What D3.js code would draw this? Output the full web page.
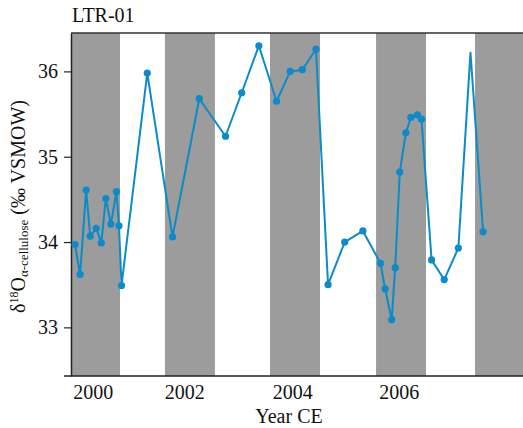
<!DOCTYPE html>
<html>
<head>
<meta charset="utf-8">
<script src="https://cdn.jsdelivr.net/npm/d3@7"></script>
<style>
  body { margin: 0; background: #fff; }
  text { font-family: "Liberation Serif", "DejaVu Serif", serif; fill: #111; }
</style>
</head>
<body>
<div id="chart"></div>
<script>
// sample dates (decimal year) and d18O values
var sampleYears = [2000.08, 2000.18, 2000.30, 2000.38, 2000.50, 2000.60, 2000.69, 2000.79, 2000.90, 2000.95,
  2001.00, 2001.51, 2002.01, 2002.54, 2003.06, 2003.38, 2003.72, 2004.07, 2004.34, 2004.58,
  2004.85, 2005.09, 2005.42, 2005.78, 2006.13, 2006.22, 2006.35, 2006.42, 2006.51, 2006.63,
  2006.73, 2006.86, 2006.94, 2007.14, 2007.39, 2007.67, 2007.91, 2008.16];
var d18O = [33.97, 33.62, 34.61, 34.07, 34.16, 33.99, 34.51, 34.21, 34.59, 34.19,
  33.49, 35.98, 34.06, 35.68, 35.24, 35.75, 36.30, 35.65, 36.00, 36.02,
  36.26, 33.50, 34.00, 34.13, 33.75, 33.45, 33.09, 33.70, 34.82, 35.28,
  35.46, 35.49, 35.44, 33.79, 33.56, 33.93, 36.22, 34.12];
// vertices drawn without a marker
var unmarkedYears = [2007.91];

// shaded seasons
var bandStart = [2000.00, 2001.86, 2003.94, 2006.04, 2008.00];
var bandEnd = [2000.97, 2002.85, 2004.93, 2007.03, 2009.00];

// axis ticks
var xTickYears = [2000.43, 2002.24, 2004.38, 2006.49];
var xTickLabels = ["2000", "2002", "2004", "2006"];
var yTicks = [33, 34, 35, 36];

var svgWidth = 523;
var svgHeight = 428;
var margin = { top: 33, right: 0, bottom: 52, left: 71 };
var width = svgWidth - margin.left - margin.right;
var height = svgHeight - margin.top - margin.bottom;

var svg = d3.select("#chart")
  .append("svg")
  .attr("width", svgWidth)
  .attr("height", svgHeight);

svg.append("defs").append("clipPath")
  .attr("id", "plotClip")
  .append("rect")
  .attr("width", width)
  .attr("height", height);

var chartGroup = svg.append("g")
  .attr("transform", `translate(${margin.left}, ${margin.top})`);

// Scales
// ==============================
var xScale = d3.scaleLinear()
  .domain([2000, 2008.95])
  .range([0, width]);

var yScale = d3.scaleLinear()
  .domain([32.43, 36.45])
  .range([height, 0]);

var data = sampleYears.map(function(yr, i) {
  return { year: yr, value: d18O[i] };
});

// Bands
// ==============================
chartGroup.append("g")
  .attr("clip-path", "url(#plotClip)")
  .selectAll("rect")
  .data(bandStart)
  .enter()
  .append("rect")
  .attr("x", d => xScale(d))
  .attr("y", 0)
  .attr("width", (d, i) => xScale(bandEnd[i]) - xScale(d))
  .attr("height", height)
  .attr("fill", "#9b9c9b");

// top frame line
chartGroup.append("line")
  .attr("x1", 0).attr("x2", width)
  .attr("y1", 0).attr("y2", 0)
  .attr("stroke", "#333")
  .attr("stroke-width", 1.5);

// Axes
// ==============================
var leftAxis = d3.axisLeft(yScale)
  .tickValues(yTicks)
  .tickFormat(d3.format("d"))
  .tickSize(7)
  .tickSizeOuter(0)
  .tickPadding(6);

var yAxisG = chartGroup.append("g").call(leftAxis);
yAxisG.select(".domain").attr("stroke", "#222").attr("stroke-width", 1.5);
yAxisG.selectAll(".tick line").attr("stroke", "#222").attr("stroke-width", 1.2);
yAxisG.selectAll(".tick text")
  .attr("font-size", "20px")
  .attr("font-family", "Liberation Serif")
  .attr("fill", "#111");

var bottomAxis = d3.axisBottom(xScale)
  .tickValues(xTickYears)
  .tickFormat((d, i) => xTickLabels[i])
  .tickSize(0)
  .tickPadding(9);

var xAxisG = chartGroup.append("g")
  .attr("transform", `translate(0, ${height})`)
  .call(bottomAxis);
xAxisG.select(".domain").remove();
xAxisG.selectAll(".tick text")
  .attr("font-size", "20px")
  .attr("font-family", "Liberation Serif")
  .attr("fill", "#111");

// bottom axis line, running a little past the left axis
chartGroup.append("line")
  .attr("x1", -7).attr("x2", width)
  .attr("y1", height).attr("y2", height)
  .attr("stroke", "#222")
  .attr("stroke-width", 1.5);

// Line + markers
// ==============================
var line = d3.line()
  .x(d => xScale(d.year))
  .y(d => yScale(d.value));

chartGroup.append("path")
  .datum(data)
  .attr("d", line)
  .attr("fill", "none")
  .attr("stroke", "#0b8bc9")
  .attr("stroke-width", 2)
  .attr("stroke-linejoin", "round");

chartGroup.selectAll("circle")
  .data(data.filter(d => unmarkedYears.indexOf(d.year) < 0))
  .enter()
  .append("circle")
  .attr("cx", d => xScale(d.year))
  .attr("cy", d => yScale(d.value))
  .attr("r", 3.6)
  .attr("fill", "#0b8bc9");

// Labels
// ==============================
svg.append("text")
  .attr("x", 72)
  .attr("y", 22)
  .attr("font-size", "20px")
  .text("LTR-01");

chartGroup.append("text")
  .attr("x", width * 0 + 218)
  .attr("y", height + 47)
  .attr("text-anchor", "middle")
  .attr("font-size", "20px")
  .text("Year CE");

var yLabel = svg.append("text")
  .attr("transform", `translate(25, ${margin.top + height / 2 + 2}) rotate(-90)`)
  .attr("text-anchor", "middle")
  .attr("font-size", "20px");
yLabel.append("tspan").text("δ");
yLabel.append("tspan").attr("font-size", "12px").attr("dy", -7).text("18");
yLabel.append("tspan").attr("dy", 7).text("O");
yLabel.append("tspan").attr("font-size", "13px").attr("dy", 3).text("α-cellulose");
yLabel.append("tspan").attr("dy", -3).text(" (‰ VSMOW)");
</script>
</body>
</html>
